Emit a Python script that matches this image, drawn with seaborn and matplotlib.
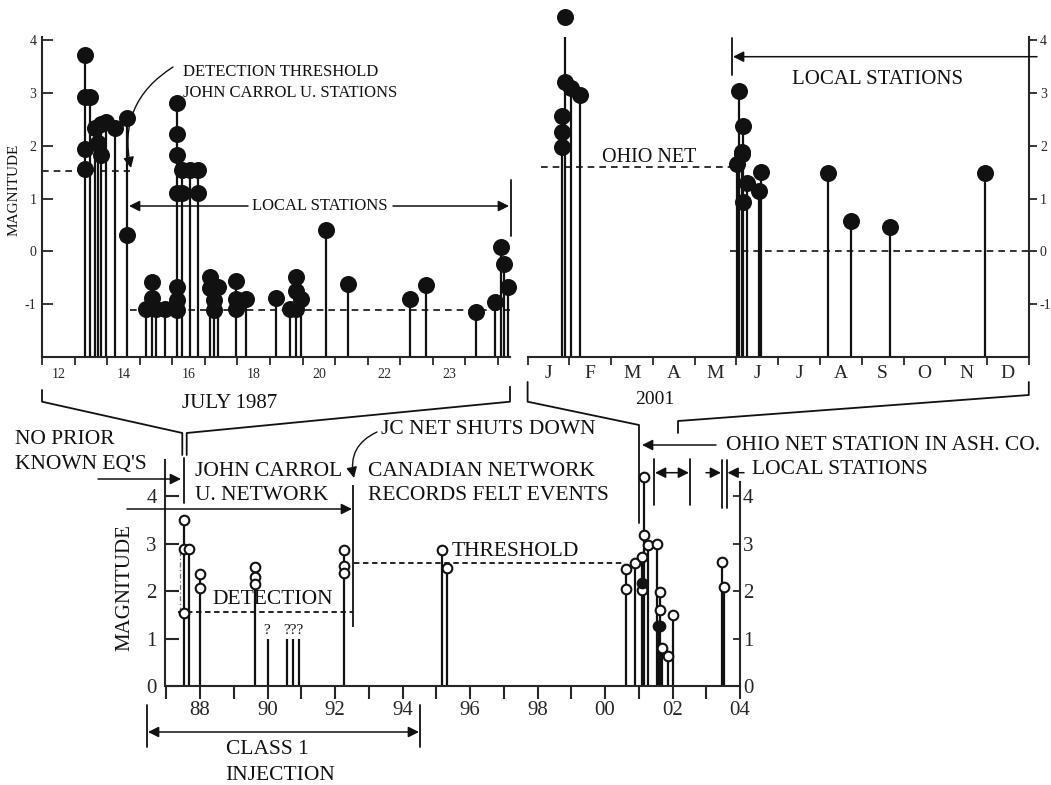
import numpy as np
import pandas as pd
import seaborn as sns
import matplotlib.pyplot as plt
from matplotlib.lines import Line2D
from matplotlib.patches import FancyArrowPatch

# ---------------- data ----------------
# top left: July 1987, x = days counted from the "12" tick
jul_day = [1.33, 1.33, 1.33, 1.33, 1.48, 1.62, 1.72, 1.80, 1.80, 1.95, 2.23, 2.60, 2.60,
           3.20, 3.39, 3.39, 3.51, 3.77,
           4.13, 4.13, 4.13, 4.13, 4.13, 4.13, 4.13, 4.30, 4.30, 4.55, 4.79, 4.79,
           5.15, 5.15, 5.27, 5.27, 5.40, 5.97, 5.97, 5.97, 6.26,
           7.20, 7.60, 7.80, 7.80, 7.80, 7.95, 8.73, 9.40, 11.29, 11.80,
           13.32, 13.92, 14.10, 14.20, 14.30]
jul_mag = [3.71, 2.93, 1.93, 1.55, 2.93, 2.33, 2.05, 2.42, 1.82, 2.45, 2.33, 2.52, 0.31,
           -1.10, -0.58, -0.89, -1.10, -1.10,
           2.81, 2.23, 1.83, 1.11, -0.67, -0.92, -1.11, 1.54, 1.11, 1.54, 1.54, 1.11,
           -0.48, -0.70, -0.92, -1.11, -0.67, -0.57, -0.91, -1.10, -0.91,
           -0.89, -1.10, -0.48, -0.75, -1.10, -0.90, 0.40, -0.62, -0.91, -0.64,
           -1.14, -0.95, 0.08, -0.24, -0.67]
day_labels = ["12", "14", "16", "18", "20", "22", "23"]

# top right: 2001, x = months from 1 Jan
m01 = [0.82, 0.82, 0.82, 0.90, 0.90, 1.05, 1.25,
       5.01, 5.07, 5.13, 5.16, 5.13, 5.25, 5.16, 5.60, 5.55,
       7.19, 7.75, 8.68, 10.94]
mag01 = [2.56, 2.25, 1.98, 4.44, 3.21, 3.09, 2.96,
         1.65, 3.04, 1.89, 2.37, 1.84, 1.29, 0.94, 1.50, 1.15,
         1.48, 0.58, 0.47, 1.48]
month_labels = ["J", "F", "M", "A", "M", "J", "J", "A", "S", "O", "N", "D"]

# bottom: 1987-2004, x = year - 1900
yr = [87.53, 87.53, 87.53, 87.68, 88.00, 88.00, 89.63, 89.63, 89.63,
      92.26, 92.26, 92.26, 95.16, 95.31,
      100.61, 100.61, 100.89, 101.11, 101.11, 101.11, 101.16, 101.16, 101.28,
      101.55, 101.58, 101.63, 101.63, 101.63, 101.68, 101.87, 102.02,
      103.48, 103.53]
yr_mag = [3.49, 2.88, 1.54, 2.88, 2.35, 2.07, 2.50, 2.30, 2.14,
          2.86, 2.53, 2.39, 2.86, 2.48,
          2.46, 2.04, 2.60, 2.72, 2.17, 2.02, 4.41, 3.18, 2.97,
          3.00, 1.26, 1.97, 1.61, 1.26, 0.79, 0.63, 1.49,
          2.62, 2.09]
yr_filled = [0, 0, 0, 0, 0, 0, 0, 0, 0, 0, 0, 0, 0, 0,
             0, 0, 0, 0, 1, 0, 0, 0, 0,
             0, 1, 0, 0, 1, 0, 0, 0, 0, 0]
q_year = [90.00, 90.57, 90.76, 90.94]   # "?" events, no magnitude
q_mag = [1.0, 1.0, 1.0, 1.0]
year_ticks = list(range(87, 105))
year_label_pos = [88, 90, 92, 94, 96, 98, 100, 102, 104]
year_labels = ["88", "90", "92", "94", "96", "98", "00", "02", "04"]

# ---------------- style ----------------
sns.set_style("ticks")
plt.rcParams['font.family'] = ['Liberation Serif', 'DejaVu Serif']
plt.rcParams['axes.linewidth'] = 1.5
INK = "#111111"

W, H = 1051, 785
fig = plt.figure(figsize=(W / 100, H / 100), dpi=100)


def P(x, y):
    # pixel position (from top-left) -> figure fraction
    return (x / W, 1 - y / H)


def rect(x0, y0, x1, y1):
    return [x0 / W, 1 - y1 / H, (x1 - x0) / W, (y1 - y0) / H]


def stems(ax, x, y, base, lw=1.6):
    top = pd.DataFrame({"x": x, "y": y}).groupby("x")["y"].max()
    ax.vlines(top.index, base, top.values, color=INK, lw=lw, zorder=2)


def line(pts, **kw):
    xs = [P(*p)[0] for p in pts]
    ys = [P(*p)[1] for p in pts]
    fig.add_artist(Line2D(xs, ys, transform=fig.transFigure, color=INK,
                          lw=kw.pop("lw", 1.3), **kw))


def arrow(a, b, style="-|>", rad=0.0, lw=1.1):
    fig.add_artist(FancyArrowPatch(P(*a), P(*b), transform=fig.transFigure,
                                   arrowstyle=style, mutation_scale=16, color=INK, lw=lw,
                                   connectionstyle=f"arc3,rad={rad}", shrinkA=0, shrinkB=0))


def text(x, y, s, size, ha="left", **kw):
    fig.text(*P(x, y), s, fontsize=size, ha=ha, va="center", color=INK, **kw)


# ---------------- top left: July 1987 ----------------
ax1 = fig.add_axes(rect(42, 37.4, 510, 357))
stems(ax1, jul_day, jul_mag, -2)
sns.scatterplot(x=jul_day, y=jul_mag, ax=ax1, s=150, color=INK, linewidth=0,
                legend=False, zorder=3, clip_on=False)
ax1.hlines(1.52, 0, 2.7, colors=INK, linestyles=(0, (4, 3)), lw=1.2)
ax1.hlines(-1.11, 2.7, 14.37, colors=INK, linestyles=(0, (4, 3)), lw=1.2)
ax1.set_xlim(0, 14.37)
ax1.set_ylim(-2, 4.05)
ax1.set_yticks([-1, 0, 1, 2, 3, 4], ["-1", "0", "1", "2", "3", "4"])
ax1.set_xticks(range(15), [""] * 15)
ax1.set_xticks(np.arange(0.5, 13, 2), day_labels, minor=True)
ax1.tick_params(axis="y", direction="in", length=8, width=1.3, labelsize=10, pad=4)
ax1.tick_params(axis="x", which="major", direction="out", length=6, width=1.3)
ax1.tick_params(axis="x", which="minor", length=0, labelsize=10, pad=8)
for s in ["top", "right"]:
    ax1.spines[s].set_visible(False)
ax1.set_xlabel("")
ax1.set_ylabel("")

# ---------------- top right: 2001 ----------------
ax2 = fig.add_axes(rect(527.6, 37.4, 1028.8, 357))
stems(ax2, m01, mag01, -2)
sns.scatterplot(x=m01, y=mag01, ax=ax2, s=150, color=INK, linewidth=0,
                legend=False, zorder=3, clip_on=False)
ax2.hlines(1.6, 0.31, 5.0, colors=INK, linestyles=(0, (4, 3)), lw=1.2)
ax2.hlines(0.0, 4.84, 12, colors=INK, linestyles=(0, (4, 3)), lw=1.2)
ax2.set_xlim(0, 12)
ax2.set_ylim(-2, 4.05)
ax2.yaxis.tick_right()
ax2.set_yticks([-1, 0, 1, 2, 3, 4], ["-1", "0", "1", "2", "3", "4"])
ax2.set_xticks(range(13), [""] * 13)
ax2.set_xticks(np.arange(0.5, 12, 1), month_labels, minor=True)
ax2.tick_params(axis="y", direction="out", length=6, width=1.3, labelsize=10, pad=2)
ax2.tick_params(axis="x", which="major", direction="out", length=6, width=1.3)
ax2.tick_params(axis="x", which="minor", length=0, labelsize=14, pad=6)
for s in ["top", "left"]:
    ax2.spines[s].set_visible(False)

# ---------------- bottom: 1987-2004 ----------------
ax3 = fig.add_axes(rect(165, 460, 740, 686))
stems(ax3, yr, yr_mag, 0)
stems(ax3, q_year, q_mag, 0)
bot = pd.DataFrame({"year": yr, "mag": yr_mag, "filled": yr_filled})
sns.scatterplot(data=bot[bot.filled == 0], x="year", y="mag", ax=ax3, s=48,
                facecolor="white", edgecolor=INK, linewidth=1.5, legend=False,
                zorder=3, clip_on=False)
sns.scatterplot(data=bot[bot.filled == 1], x="year", y="mag", ax=ax3, s=48,
                color=INK, edgecolor=INK, linewidth=1.5, legend=False,
                zorder=3, clip_on=False)
ax3.hlines(1.55, 87.34, 92.54, colors=INK, linestyles=(0, (3, 2)), lw=1.3)
ax3.hlines(2.6, 92.56, 100.6, colors=INK, linestyles=(0, (3, 2)), lw=1.3)
ax3.vlines(87.4, 1.55, 2.88, colors="#777777", linestyles=(0, (4, 2, 1, 2)), lw=0.9)
ax3.vlines(92.545, 1.25, 4.23, colors=INK, lw=1.3)
ax3.set_xlim(86.96, 104.0)
ax3.set_ylim(0, 4.76)
lab = dict(zip(year_label_pos, year_labels))
ax3.set_xticks(year_ticks, [lab.get(y, "") for y in year_ticks])
ax3.set_yticks([0, 1, 2, 3, 4], ["0", "1", "2", "3", "4"])
ax3.tick_params(axis="y", direction="in", length=10, width=1.5, labelsize=15, pad=6)
ax3.tick_params(axis="x", direction="out", length=9, width=1.5, labelsize=15, pad=2)
ax3.spines["top"].set_visible(False)
ax3.spines["right"].set_visible(False)
ax3.set_xlabel("")
ax3.set_ylabel("")

# right hand magnitude scale of the bottom panel
sec = ax3.secondary_yaxis("right")
sec.spines["right"].set_bounds(0, 4.3)
sec.spines["right"].set_linewidth(1.5)
sec.set_yticks([0, 1, 2, 3, 4], ["0", "1", "2", "3", "4"])
sec.tick_params(axis="y", direction="in", length=5, width=1.3, labelsize=15, pad=2)

# ---------------- annotations: top left ----------------
text(14, 190, "MAGNITUDE", 11, ha="center", rotation=90)
text(183, 72, "DETECTION THRESHOLD", 12)
text(183, 93, "JOHN CARROL U. STATIONS", 12)
arrow((173, 67), (131, 168), rad=0.35, lw=1.0)
text(320, 206, "LOCAL STATIONS", 12, ha="center")
arrow((248, 206), (129, 206))
arrow((393, 206), (509, 206))
line([(511, 180), (511, 236)])

# ---------------- annotations: top right ----------------
text(649, 157, "OHIO NET", 14.5, ha="center")
text(877, 80, "LOCAL STATIONS", 15, ha="center")
line([(731.7, 38), (731.7, 75)])
arrow((1037, 56.7), (733, 56.7))

# ---------------- brackets between panels ----------------
text(230, 403, "JULY 1987", 15, ha="center")
text(655, 400, "2001", 14, ha="center")
line([(42, 390), (42, 401.7), (182.3, 433), (182.3, 455)])
line([(510, 386.7), (510, 401.7), (186.7, 433), (186.7, 455)])
line([(527.6, 382), (527.6, 401.7), (639, 425), (639, 523)])
line([(1028.8, 382), (1028.8, 395), (678, 421), (678, 433)])

# ---------------- annotations: bottom ----------------
text(125, 588, "MAGNITUDE", 15, ha="center", rotation=90)
text(15, 439, "NO PRIOR", 15.5)
text(15, 465, "KNOWN EQ'S", 15.5)
arrow((98, 479), (181, 479))
line([(184.3, 458), (184.3, 503)])
text(195, 471, "JOHN CARROL", 15.5)
text(195, 495, "U. NETWORK", 15.5)
arrow((127, 509), (352, 509))
text(381, 430, "JC NET SHUTS DOWN", 15.5)
arrow((377, 432), (354, 478), rad=0.4, lw=1.0)
text(368, 471, "CANADIAN NETWORK", 15.5)
text(368, 495, "RECORDS FELT EVENTS", 15.5)
text(452, 552, "THRESHOLD", 15.5)
text(212, 600, "DETECTION", 15.5)
text(267, 630, "?", 11, ha="center")
text(293, 630, "???", 11, ha="center")
text(726, 445, "OHIO NET STATION IN ASH. CO.", 15.5)
arrow((716, 445), (642, 445))
text(752, 470, "LOCAL STATIONS", 15.5)
line([(654, 459), (654, 505)])
line([(690, 459), (690, 505)])
arrow((655, 472.7), (689, 472.7), style="<|-|>")
line([(722, 460), (722, 508)])
line([(726.5, 460), (726.5, 508)])
arrow((706, 472.7), (721, 472.7))
arrow((744, 472.7), (727.5, 472.7))

# class 1 injection span
line([(147, 705), (147, 747)])
line([(420, 705), (420, 747)])
arrow((148, 732), (419, 732), style="<|-|>")
text(267, 750, "CLASS 1", 15.5, ha="center")
text(280, 775, "INJECTION", 15.5, ha="center")

fig.savefig("out.png", dpi=100)
